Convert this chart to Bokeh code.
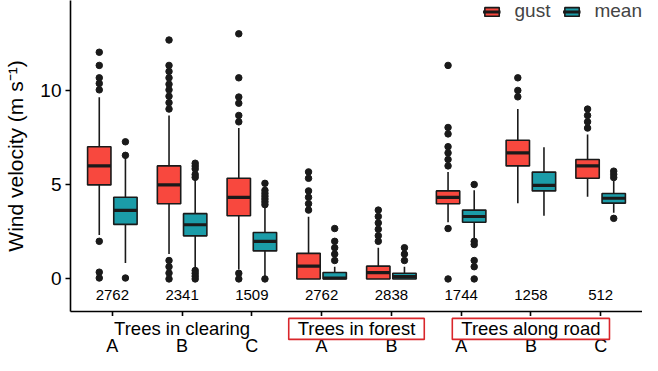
from bokeh.plotting import figure
from bokeh.models import (Range1d, FixedTicker, Legend, LegendItem, Label)
from bokeh.layouts import column
from bokeh.core.properties import value
from bokeh.embed import file_html
from bokeh.resources import INLINE

# ---- data ----
groups = ["Trees in clearing", "Trees in forest", "Trees along road"]
letters = ["A", "B", "C", "A", "B", "A", "B", "C"]
counts = [2762, 2341, 1509, 2762, 2838, 1744, 1258, 512]

gust_q1 = [5.0, 4.0, 3.36, 0.0, 0.0, 4.0, 6.01, 5.35]
gust_med = [6.01, 5.0, 4.34, 0.68, 0.34, 4.34, 6.7, 6.01]
gust_q3 = [7.03, 6.01, 5.35, 1.36, 0.68, 4.68, 7.37, 6.35]
gust_lo = [2.34, 1.32, 0.5, 0.0, 0.0, 3.01, 4.03, 4.37]
gust_hi = [9.66, 8.69, 8.02, 3.3, 1.66, 5.68, 9.03, 7.68]
gust_out = [
    [12.05, 11.35, 10.69, 10.39, 10.05, 2.0, 0.36, 0.05],
    [12.7, 11.35, 11.03, 10.69, 10.35, 10.05, 9.71, 9.37, 9.03, 0.98, 0.65, 0.31, 0.0],
    [13.03, 10.69, 9.67, 9.34, 8.69, 8.35, 0.3, 0.0],
    [5.69, 5.35, 4.68, 4.34, 4.0, 3.66],
    [3.66, 3.32, 2.98, 2.64, 2.3, 2.0],
    [11.35, 8.05, 7.71, 7.03, 6.7, 6.35, 6.01, 2.68, 0.0],
    [10.69, 10.02, 9.68],
    [9.03, 8.69, 8.35, 8.02],
]

mean_q1 = [2.9, 2.29, 1.49, 0.0, 0.0, 3.01, 4.68, 4.03]
mean_med = [3.64, 2.88, 2.0, 0.05, 0.12, 3.32, 4.97, 4.29]
mean_q3 = [4.34, 3.47, 2.47, 0.34, 0.3, 3.66, 5.68, 4.54]
mean_lo = [0.85, 0.56, 0.1, 0.0, 0.0, 2.17, 3.36, 3.52]
mean_hi = [6.5, 5.3, 3.85, 0.65, 0.65, 4.71, 7.0, 5.22]
mean_out = [
    [7.29, 6.57, 0.05],
    [6.15, 6.0, 5.85, 5.55, 5.4, 0.45, 0.3, 0.15, 0.0],
    [5.08, 4.71, 4.55, 4.4, 4.25, 4.1, 3.95, 0.0],
    [2.68, 2.0, 1.66, 1.32, 0.98],
    [1.66, 1.32, 0.98],
    [5.02, 2.0, 1.83, 0.98, 0.65, 0.0],
    [],
    [5.73, 5.56, 5.39, 3.22],
]

group_centers = [2.0, 4.5, 7.0]
boxed = [False, True, True]

positions = list(range(1, len(counts) + 1))
DODGE = 0.1875
BOXW = 0.335
FONT = "Liberation Sans"
GUST_COLOR = "#F8483E"
MEAN_COLOR = "#1B9CA8"
DARK = "#1a1a1a"

xr = Range1d(0.4, 8.6)
p = figure(width=642, height=316, output_backend="svg", toolbar_location=None,
           x_range=xr, y_range=Range1d(-1.73, 14.8),
           min_border_left=70, min_border_right=0, min_border_top=0, min_border_bottom=5)
p.xgrid.visible = False
p.ygrid.visible = False
p.outline_line_color = None

def draw_series(off, q1, med, q3, lo, hi, outs, color):
    xs = [x + off for x in positions]
    p.segment(x0=xs, y0=q3, x1=xs, y1=hi, line_color=DARK, line_width=1.6)
    p.segment(x0=xs, y0=q1, x1=xs, y1=lo, line_color=DARK, line_width=1.6)
    box = p.vbar(x=xs, width=BOXW, bottom=q1, top=q3, fill_color=color,
                 line_color=DARK, line_width=1.6)
    medr = p.segment(x0=[x - BOXW / 2 for x in xs], y0=med,
                     x1=[x + BOXW / 2 for x in xs], y1=med,
                     line_color=DARK, line_width=3.2)
    ox, oy = [], []
    for x, vals in zip(xs, outs):
        for v in vals:
            ox.append(x)
            oy.append(v)
    p.scatter(x=ox, y=oy, size=6.5, fill_color=DARK, line_color=DARK)
    return box, medr

g_box, g_med = draw_series(-DODGE, gust_q1, gust_med, gust_q3, gust_lo, gust_hi, gust_out, GUST_COLOR)
m_box, m_med = draw_series(DODGE, mean_q1, mean_med, mean_q3, mean_lo, mean_hi, mean_out, MEAN_COLOR)

# counts
p.text(x=positions, y=[-0.87] * len(counts), text=[str(c) for c in counts],
       text_font=value(FONT), text_font_size="15px", text_align="center",
       text_baseline="middle", text_color="black")

# axes
p.yaxis.ticker = FixedTicker(ticks=[0, 5, 10])
p.yaxis.axis_label = "Wind velocity (m s\u207b\u00b9)"
p.yaxis.axis_label_text_font = FONT
p.yaxis.axis_label_text_font_style = "normal"
p.yaxis.axis_label_text_font_size = "21px"
p.yaxis.axis_label_text_color = "black"
p.yaxis.axis_label_standoff = 10
p.yaxis.major_label_text_font = FONT
p.yaxis.major_label_text_font_size = "19px"
p.yaxis.major_label_text_color = "black"
p.yaxis.major_label_standoff = 4

p.xaxis.ticker = FixedTicker(ticks=positions)
p.xaxis.major_label_overrides = {i: "" for i in positions}
p.xaxis.major_label_text_font_size = "0px"
p.xaxis.major_label_standoff = 0

for ax in (p.xaxis, p.yaxis):
    ax.axis_line_color = "black"
    ax.axis_line_width = 1.6
    ax.major_tick_line_color = "black"
    ax.major_tick_line_width = 1.6
    ax.major_tick_out = 5
    ax.major_tick_in = 0
    ax.minor_tick_line_color = None

legend = Legend(items=[LegendItem(label="gust", renderers=[g_box, g_med]),
                       LegendItem(label="mean", renderers=[m_box, m_med])],
                orientation="horizontal", location="top_right",
                border_line_color=None, background_fill_alpha=0,
                label_text_font=FONT, label_text_font_size="19px",
                glyph_width=18, glyph_height=11, label_standoff=14, spacing=12,
                padding=0, margin=0)
p.add_layout(legend)

# ---- category labels strip below the axis ----
p2 = figure(width=642, height=39, output_backend="svg", toolbar_location=None,
            x_range=xr, y_range=Range1d(0, 39),
            x_axis_location=None, y_axis_location=None,
            min_border_left=70, min_border_right=0, min_border_top=0, min_border_bottom=0)
p2.xgrid.visible = False
p2.ygrid.visible = False
p2.outline_line_color = None

for name, cx, bx in zip(groups, group_centers, boxed):
    lab = Label(x=cx, y=26.6, text=name, text_font=FONT, text_font_size="18.5px",
                text_align="center", text_baseline="middle", text_color="black")
    if bx:
        lab.border_line_color = "#D9262B"
        lab.border_line_width = 1.6
        lab.padding = dict(left=9, right=9, top=0, bottom=0)
    p2.add_layout(lab)

p2.text(x=positions, y=[9.8] * len(letters), text=letters,
        text_font=value(FONT), text_font_size="18px", text_align="center",
        text_baseline="middle", text_color="black")

layout = column(p, p2, spacing=0)
open("out.html", "w").write(file_html(layout, INLINE))
